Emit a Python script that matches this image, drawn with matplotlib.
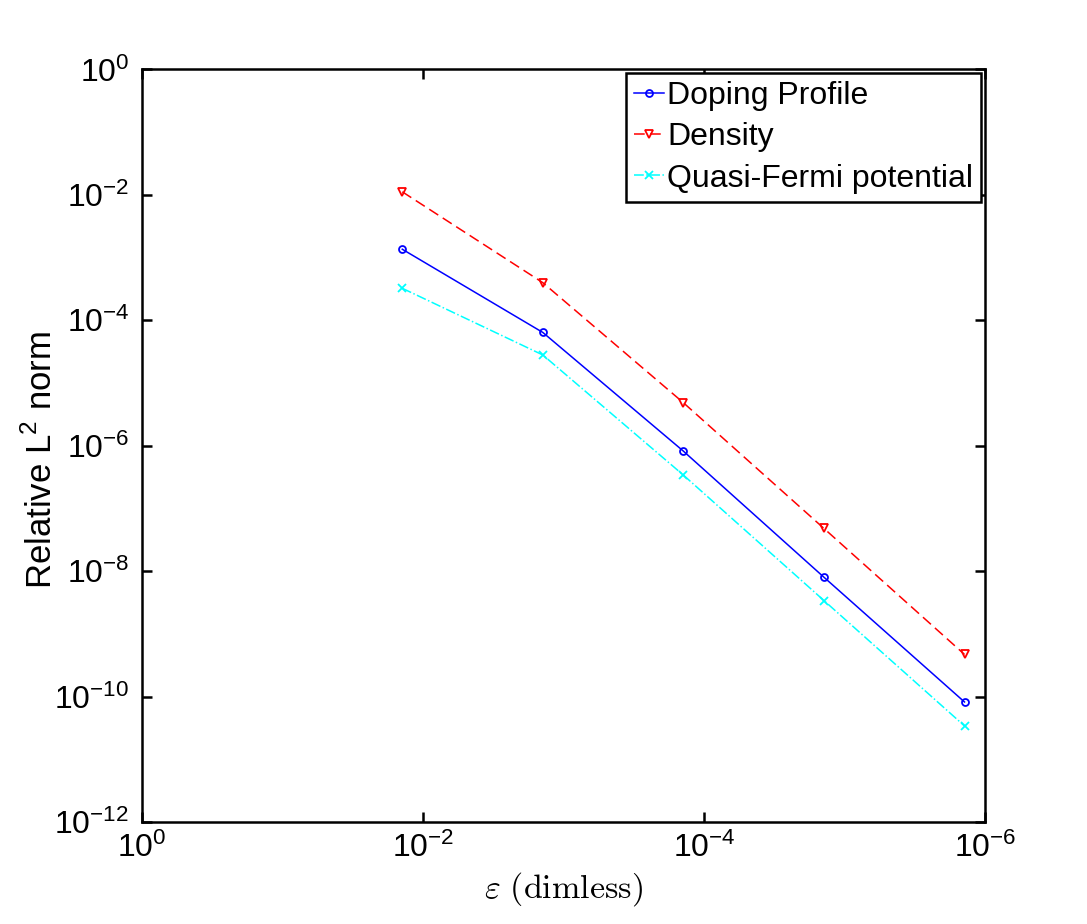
import matplotlib
matplotlib.use("Agg")
import matplotlib.pyplot as plt
from matplotlib.ticker import FixedLocator, FixedFormatter, NullLocator

plt.rcParams['font.family'] = ['Liberation Sans', 'DejaVu Sans']

eps = [1.4e-2, 1.4e-3, 1.4e-4, 1.4e-5, 1.4e-6]
doping = [1.36e-3, 6.4e-5, 8.2e-7, 8.0e-9, 8.2e-11]
density = [1.12e-2, 3.98e-4, 4.85e-6, 4.8e-8, 4.7e-10]
quasi = [3.24e-4, 2.8e-5, 3.4e-7, 3.4e-9, 3.4e-11]

series_labels = ['Doping Profile', 'Density', 'Quasi-Fermi potential']
xtick_vals = [1e0, 1e-2, 1e-4, 1e-6]
xtick_labels = [r'$\mathregular{10^{0}}$', r'$\mathregular{10^{-2}}$',
                r'$\mathregular{10^{-4}}$', r'$\mathregular{10^{-6}}$']
ytick_vals = [1e0, 1e-2, 1e-4, 1e-6, 1e-8, 1e-10, 1e-12]
ytick_labels = [r'$\mathregular{10^{0}}$', r'$\mathregular{10^{-2}}$',
                r'$\mathregular{10^{-4}}$', r'$\mathregular{10^{-6}}$',
                r'$\mathregular{10^{-8}}$', r'$\mathregular{10^{-10}}$',
                r'$\mathregular{10^{-12}}$']

fig = plt.figure(figsize=(10.87, 9.24), dpi=100)
ax = fig.add_axes([0.1304, 0.1104, 0.9062 - 0.1304, 0.9248 - 0.1104])

ax.loglog(eps, doping, '-', color='blue', marker='o', markersize=5,
          markerfacecolor='none', markeredgewidth=1.3, linewidth=1.1,
          label=series_labels[0])
ax.loglog(eps, density, '--', color='red', marker='v', markersize=5.5,
          markerfacecolor='none', markeredgewidth=1.3, linewidth=1.1,
          dashes=(7, 3.5), label=series_labels[1])
ax.loglog(eps, quasi, '-.', color='cyan', marker='x', markersize=5.5,
          markeredgewidth=1.3, linewidth=1.1, label=series_labels[2])

ax.set_xlim(1e0, 1e-6)
ax.set_ylim(1e-12, 1e0)

ax.xaxis.set_major_locator(FixedLocator(xtick_vals))
ax.xaxis.set_major_formatter(FixedFormatter(xtick_labels))
ax.yaxis.set_major_locator(FixedLocator(ytick_vals))
ax.yaxis.set_major_formatter(FixedFormatter(ytick_labels))
ax.xaxis.set_minor_locator(NullLocator())
ax.yaxis.set_minor_locator(NullLocator())

ax.tick_params(which='major', direction='in', length=7, width=1.8,
               top=True, right=True, labelsize=23)
ax.tick_params(axis='x', pad=8)
ax.tick_params(axis='y', pad=9)
for sp in ax.spines.values():
    sp.set_linewidth(1.8)

ax.set_xlabel(r'$\varepsilon\ \mathrm{(dimless)}$', fontsize=24.5,
              math_fontfamily='cm', labelpad=4)
ax.set_ylabel(r'Relative L$^\mathregular{2}$ norm', fontsize=25)
ax.yaxis.set_label_coords(-0.098, 0.481)

leg = ax.legend(loc='upper right', fontsize=23, frameon=True, fancybox=False,
                edgecolor='black', framealpha=1, handlelength=0.95,
                handletextpad=0.1, labelspacing=0.35, borderpad=0.25,
                borderaxespad=0.12, numpoints=1)
leg.get_frame().set_linewidth(1.8)

fig.savefig('out.png', dpi=100)
